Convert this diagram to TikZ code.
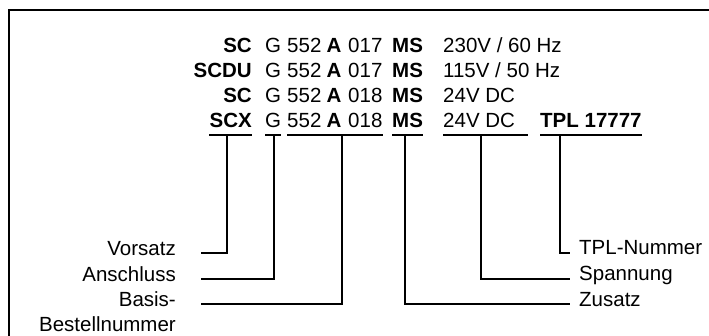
\documentclass[tikz,border=0pt]{standalone}
\usepackage{fontspec}
\setmainfont{Liberation Sans}
\begin{document}
\begin{tikzpicture}[x=1pt,y=-1pt,
  txt/.style={inner sep=0pt,font=\fontsize{20.5}{24}\selectfont},
  bf/.style={inner sep=0pt,font=\fontsize{20.5}{24}\selectfont\bfseries},
  conn/.style={line width=1.1pt},
  uline/.style={line width=1.3pt},
  frame/.style={line width=2.6pt}]
\useasboundingbox (0,0) rectangle (709,336);
% frame (top and left edges)
\draw[frame] (9,337) -- (9,10) -- (710,10);
% code rows
\foreach \r/\b/\p/\c/\v in {1/53/SC/017/{230V / 60 Hz}, 2/78/SCDU/017/{115V / 50 Hz}, 3/103/SC/018/{24V DC}, 4/128/SCX/018/{24V DC}}{
  \node[bf,anchor=base east] (p\r) at (252,\b) {\p};
  \node[txt,anchor=base west] (g\r) at (265,\b) {G};
  \node[txt,anchor=base west] (n\r) at (287,\b) {552};
  \node[bf,anchor=base west] (a\r) at (326.5,\b) {A};
  \node[txt,anchor=base west] (c\r) at (348,\b) {\c};
  \node[bf,anchor=base west] (m\r) at (392,\b) {MS};
  \node[txt,anchor=base west] (v\r) at (443,\b) {\v};
}
\node[bf,anchor=base west] (t4) at (540,128) {TPL 17777};
% underlines
\draw[uline] ([yshift=-7pt]p4.base west) -- ([yshift=-7pt]p4.base east);
\draw[uline] ([yshift=-7pt]g4.base west) -- ([yshift=-7pt]g4.base east);
\draw[uline] ([yshift=-7pt]n4.base west) -- ([yshift=-7pt]c4.base east);
\draw[uline] ([yshift=-7pt]m4.base west) -- ([yshift=-7pt]m4.base east);
\draw[uline] ([yshift=-7pt]v4.base west) -- ([xshift=13pt,yshift=-7pt]v4.base east);
\draw[uline] ([yshift=-7pt]t4.base west) -- ([yshift=-7pt]t4.base east);
% connector start points on the underlines
\coordinate (uV) at (227,135);
\coordinate (uG) at (274,135);
\coordinate (uB) at (342,135);
\coordinate (uZ) at (405,135);
\coordinate (uS) at (481,135);
\coordinate (uT) at (560,135);
% labels left
\node[txt,anchor=base east] (vorsatz) at (176,256) {Vorsatz};
\node[txt,anchor=base east] (anschluss) at (176,282) {Anschluss};
\node[txt,anchor=base east] (basis) at (176,307) {Basis-};
\node[txt,anchor=base east] (bestell) at (176,332) {Bestellnummer};
% labels right
\node[txt,anchor=base west] (tplnr) at (579,255) {TPL-Nummer};
\node[txt,anchor=base west] (spann) at (579,281) {Spannung};
\node[txt,anchor=base west] (zusatz) at (579,307) {Zusatz};
% connectors
\draw[conn] (uV) |- ([xshift=25pt,yshift=3pt]vorsatz.base east);
\draw[conn] (uG) |- ([xshift=25pt,yshift=3pt]anschluss.base east);
\draw[conn] (uB) |- ([xshift=25pt,yshift=3pt]basis.base east);
\draw[conn] (uT) |- ([xshift=-9pt,yshift=2pt]tplnr.base west);
\draw[conn] (uS) |- ([xshift=-9pt,yshift=2pt]spann.base west);
\draw[conn] (uZ) |- ([xshift=-9pt,yshift=3pt]zusatz.base west);
\end{tikzpicture}
\end{document}
